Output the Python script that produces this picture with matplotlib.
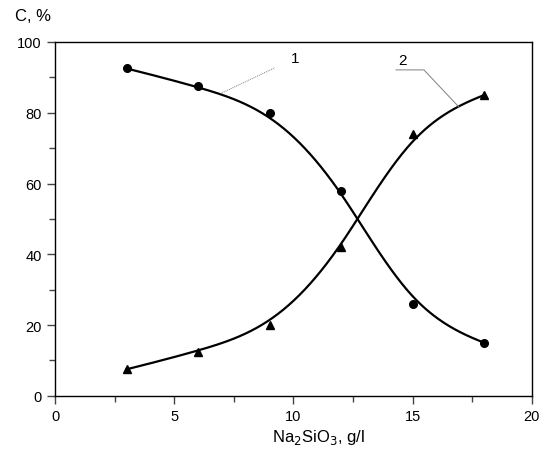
import matplotlib

matplotlib.use("Agg")

import matplotlib.pyplot as plt
import numpy as np
from matplotlib.ticker import MultipleLocator

plt.rcParams["font.family"] = ["Liberation Sans", "DejaVu Sans"]

na2sio3 = [3, 6, 9, 12, 15, 18]
curve_1 = [92.5, 87.5, 80, 58, 26, 15]
curve_2 = [7.5, 12.5, 20, 42, 74, 85]


def bspline(xs, ys, k=3, n=400):
    # clamped B-spline using the points as control points
    pts = np.column_stack([xs, ys]).astype(float)
    m = len(pts)
    inner = np.linspace(0, 1, m - k + 1)[1:-1]
    knots = np.concatenate([[0] * (k + 1), inner, [1] * (k + 1)])
    out = []
    for t in np.linspace(0, 1, n):
        t = min(t, 1 - 1e-12)
        basis = np.array([1.0 if knots[i] <= t < knots[i + 1] else 0.0 for i in range(len(knots) - 1)])
        for d in range(1, k + 1):
            nb = np.zeros(len(knots) - 1 - d)
            for i in range(len(nb)):
                a = b = 0.0
                if knots[i + d] != knots[i]:
                    a = (t - knots[i]) / (knots[i + d] - knots[i]) * basis[i]
                if knots[i + d + 1] != knots[i + 1]:
                    b = (knots[i + d + 1] - t) / (knots[i + d + 1] - knots[i + 1]) * basis[i + 1]
                nb[i] = a + b
            basis = nb
        out.append(basis @ pts)
    out = np.array(out)
    return out[:, 0], out[:, 1]


def natural_spline(xs, ys, grid):
    x = np.asarray(xs, float)
    y = np.asarray(ys, float)
    n = len(x)
    h = np.diff(x)
    A = np.zeros((n, n))
    r = np.zeros(n)
    A[0, 0] = A[-1, -1] = 1
    for i in range(1, n - 1):
        A[i, i - 1] = h[i - 1]
        A[i, i] = 2 * (h[i - 1] + h[i])
        A[i, i + 1] = h[i]
        r[i] = 6 * ((y[i + 1] - y[i]) / h[i] - (y[i] - y[i - 1]) / h[i - 1])
    M = np.linalg.solve(A, r)
    idx = np.clip(np.searchsorted(x, grid) - 1, 0, n - 2)
    x0, x1, hh = x[idx], x[idx + 1], h[idx]
    return (M[idx] * (x1 - grid) ** 3 / (6 * hh) + M[idx + 1] * (grid - x0) ** 3 / (6 * hh)
            + (y[idx] / hh - M[idx] * hh / 6) * (x1 - grid)
            + (y[idx + 1] / hh - M[idx + 1] * hh / 6) * (grid - x0))


def smooth_line(xs, ys):
    # soft smoothing like the original software: halfway between B-spline and interpolation
    grid = np.linspace(xs[0], xs[-1], 400)
    bx, by = bspline(xs, ys)
    return grid, 0.5 * np.interp(grid, bx, by) + 0.5 * natural_spline(xs, ys, grid)


fig = plt.figure(figsize=(5.45, 4.52), dpi=100)
ax = fig.add_axes([0.101, 0.122, 0.875, 0.783])

for ys, marker in [(curve_1, "o"), (curve_2, "^")]:
    sx, sy = smooth_line(na2sio3, ys)
    ax.plot(sx, sy, color="black", linewidth=1.6)
    ax.plot(na2sio3, ys, linestyle="none", marker=marker, color="black", markersize=5.5)

# curve labels with leader lines
ax.plot([7.0, 9.22], [85.6, 92.7], color="gray", linewidth=0.7, linestyle=(0, (1, 1)))
ax.text(9.9, 95.5, "1", fontsize=11, ha="left", va="center")
ax.plot([14.3, 15.47, 16.94], [92.1, 92.1, 81.6], color="gray", linewidth=0.7)
ax.text(14.4, 95.0, "2", fontsize=11, ha="left", va="center")

ax.set_xlim(0, 20)
ax.set_ylim(0, 100)
ax.xaxis.set_major_locator(MultipleLocator(5))
ax.xaxis.set_minor_locator(MultipleLocator(2.5))
ax.yaxis.set_major_locator(MultipleLocator(20))
ax.yaxis.set_minor_locator(MultipleLocator(10))
ax.tick_params(which="major", length=6, width=1, labelsize=10.5, color="#444444")
ax.tick_params(which="minor", length=4, width=1, color="#444444")
for spine in ax.spines.values():
    spine.set_linewidth(1)

fig.text(0.584, 0.033, "Na$_2$SiO$_3$, g/l", fontsize=12, ha="center", va="center")
fig.text(0.027, 0.963, "C, %", fontsize=12, ha="left", va="center")

fig.savefig("out.png")
